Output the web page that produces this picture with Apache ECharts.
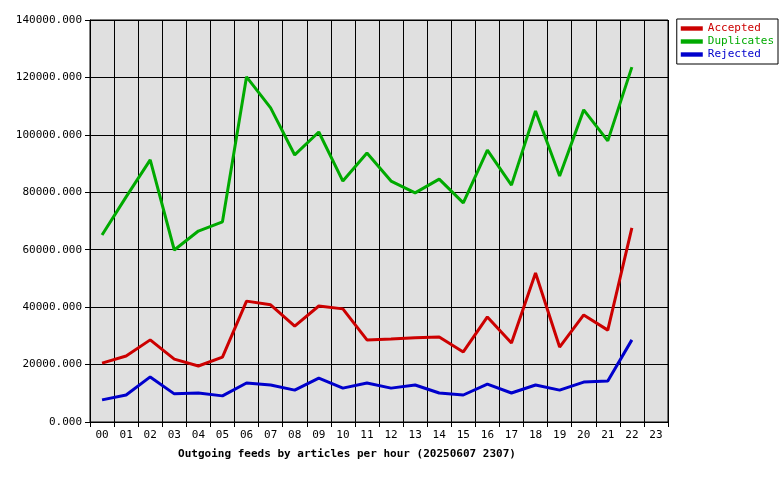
<!DOCTYPE html><html><head><meta charset="utf-8"><script src="https://cdn.jsdelivr.net/npm/echarts@6/dist/echarts.min.js"></script></head><body style="margin:0;background:#fff"><div id="c" style="width:780px;height:480px"></div><script>
const hours=['00','01','02','03','04','05','06','07','08','09','10','11','12','13','14','15','16','17','18','19','20','21','22','23'];
const accepted=[20500,23000,28600,21900,19500,22600,42100,40800,33400,40400,39400,28600,28900,29300,29600,24400,36600,27500,51900,26100,37300,32000,67600];
const duplicates=[65100,78400,91300,59900,66500,69700,120200,109400,93000,101000,83900,93700,83900,79800,84600,76300,94700,82500,108300,85700,108700,97900,123600];
const rejected=[7700,9400,15700,9800,10100,9100,13600,12900,11100,15300,11800,13600,11800,12900,10100,9400,13200,10100,12900,11100,13900,14300,28600];
const F='DejaVu Sans Mono';
const mk=(n,d,c)=>({name:n,type:'line',data:d,symbol:'none',lineStyle:{color:c,width:3},itemStyle:{color:c}});
echarts.init(document.getElementById('c')).setOption({animation:false,
title:{text:'Outgoing feeds by articles per hour (20250607 2307)',left:342,textAlign:'center',top:444,textStyle:{fontFamily:F,fontSize:11,fontWeight:'bold',color:'#000'}},
legend:{orient:'vertical',right:2,top:19,backgroundColor:'#fff',borderColor:'#000',borderWidth:1,padding:[4,4],itemGap:2,itemWidth:22,itemHeight:6,icon:'path://M0,2H10V4H0Z',textStyle:{fontFamily:F,fontSize:11,color:'inherit'},
data:[{name:'Accepted',textStyle:{color:'#cc0000'}},{name:'Duplicates',textStyle:{color:'#00aa00'}},{name:'Rejected',textStyle:{color:'#0000cc'}}]},
grid:{left:90,right:112,top:20,bottom:58,show:true,backgroundColor:'#e0e0e0',borderColor:'#000',borderWidth:1},
xAxis:{type:'category',data:hours,boundaryGap:true,axisLine:{lineStyle:{color:'#000'}},axisTick:{show:true,lineStyle:{color:'#000'}},axisLabel:{fontFamily:F,fontSize:11,color:'#000'},splitLine:{show:true,lineStyle:{color:'#000'}}},
yAxis:{type:'value',min:0,max:140000,interval:20000,axisLine:{show:true,lineStyle:{color:'#000'}},axisTick:{show:true},axisLabel:{fontFamily:F,fontSize:11,color:'#000',formatter:v=>v.toFixed(3)},splitLine:{lineStyle:{color:'#000'}}},
series:[mk('Accepted',accepted,'#cc0000'),mk('Duplicates',duplicates,'#00aa00'),mk('Rejected',rejected,'#0000cc')]});
</script></body></html>
